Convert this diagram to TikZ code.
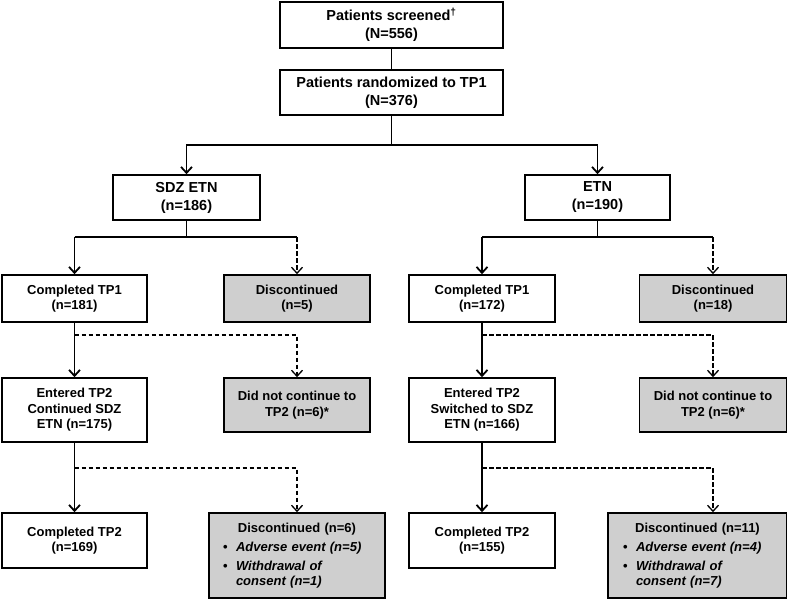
\documentclass[tikz,border=0pt]{standalone}
\usepackage{fontspec}
\setmainfont{Liberation Sans}
\usetikzlibrary{arrows.meta}
\definecolor{boxgrey}{RGB}{207,207,207}
\tikzset{
  box/.style={draw, line width=1.6pt, align=center, inner sep=2pt, font=\fontsize{13}{15.5}\selectfont\bfseries},
  topbox/.style={box, font=\fontsize{14.5}{18}\selectfont\bfseries},
  greybox/.style={box, fill=boxgrey},
  arr/.style={-{Straight Barb[length=6pt,width=11pt]}},
  dashline/.style={dash pattern=on 4.5pt off 2.5pt, line width=1.3pt},
}
\begin{document}
\begin{tikzpicture}[x=1pt, y=-1pt, line width=1.8pt]
\useasboundingbox (0,0) rectangle (787,600);
\node[topbox, minimum width=223pt, minimum height=46pt] (P_0_0) at (391.5,25) {Patients screened\textsuperscript{†}\\(N=556)};
\node[topbox, minimum width=223pt, minimum height=45pt] (P_1_0) at (391.5,92.5) {Patients randomized to TP1\\(N=376)};
\draw (P_0_0) -- (P_1_0);
\node[topbox, minimum width=147pt, minimum height=45pt] (P_2_0) at (186.5,197.5) {SDZ ETN\\(n=186)};
\node[topbox, minimum width=145pt, minimum height=45pt] (P_2_1) at (597.5,197.5) {ETN\\(n=190)};
\coordinate (B_0) at (391.5,145);
\draw (P_1_0) -- (B_0);
\draw[arr] (B_0) -| (P_2_0);
\draw[arr] (B_0) -| (P_2_1);
% treatment period 1
\node[box, minimum width=145pt, minimum height=47pt] (P_3_0) at (74.5,298.5) {Completed TP1\\(n=181)};
\node[greybox, minimum width=146pt, minimum height=47pt] (P_3_1) at (297,298.5) {Discontinued\\(n=5)};
\node[box, minimum width=146pt, minimum height=47pt] (P_3_2) at (482,298.5) {Completed TP1\\(n=172)};
\node[greybox, minimum width=147pt, minimum height=47pt] (P_3_3) at (713,298.5) {Discontinued\\(n=18)};
\coordinate (B_1_0) at (186.5,237);
\coordinate (B_1_1) at (597.5,237);
\draw (P_2_0) -- (B_1_0);
\draw (P_3_0 |- B_1_0) -- (P_3_1 |- B_1_0);
\draw[arr] (P_3_0 |- B_1_0) -- (P_3_0);
\draw[arr, dashline] (P_3_1 |- B_1_0) -- (P_3_1);
\draw (P_2_1) -- (B_1_1);
\draw (P_3_2 |- B_1_1) -- (P_3_3 |- B_1_1);
\draw[arr] (P_3_2 |- B_1_1) -- (P_3_2);
\draw[arr, dashline] (P_3_3 |- B_1_1) -- (P_3_3);
% treatment period 2
\node[box, minimum width=145pt, minimum height=64pt] (P_4_0) at (74.5,410) {Entered TP2\\Continued SDZ\\ETN (n=175)};
\node[greybox, minimum width=146pt, minimum height=54pt] (P_4_1) at (297,405) {Did not continue to\\TP2 (n=6)*};
\node[box, minimum width=146pt, minimum height=64pt] (P_4_2) at (482,410) {Entered TP2\\Switched to SDZ\\ETN (n=166)};
\node[greybox, minimum width=147pt, minimum height=54pt] (P_4_3) at (713,405) {Did not continue to\\TP2 (n=6)*};
\coordinate (B_2_0) at (74.5,335);
\coordinate (B_2_1) at (482,335);
\draw[arr] (P_3_0) -- (P_4_0);
\draw[arr, dashline] (B_2_0) -| (P_4_1);
\draw[arr] (P_3_2) -- (P_4_2);
\draw[arr, dashline] (B_2_1) -| (P_4_3);
% end of TP2
\node[box, minimum width=145pt, minimum height=55pt] (P_5_0) at (74.5,540.5) {Completed TP2\\(n=169)};
\node[greybox, align=left, text width=172pt, minimum height=85pt] (P_5_1) at (297,555.5) {{\centering Discontinued (n=6)\par}\vspace{4pt}
  \leftskip=12pt \itshape
  \makebox[13pt][l]{\upshape\textbullet}Adverse event (n=5)\par\vspace{3pt}
  \makebox[13pt][l]{\upshape\textbullet}\parbox[t]{140pt}{\raggedright Withdrawal of\\consent (n=1)}\par};
\node[box, minimum width=146pt, minimum height=55pt] (P_5_2) at (482,540.5) {Completed TP2\\(n=155)};
\node[greybox, align=left, text width=175pt, minimum height=85pt] (P_5_3) at (697.5,555.5) {{\centering Discontinued (n=11)\par}\vspace{4pt}
  \leftskip=13pt \itshape
  \makebox[13pt][l]{\upshape\textbullet}Adverse event (n=4)\par\vspace{3pt}
  \makebox[13pt][l]{\upshape\textbullet}\parbox[t]{140pt}{\raggedright Withdrawal of\\consent (n=7)}\par};
\coordinate (B_3_0) at (74.5,468);
\coordinate (B_3_1) at (482,468);
\coordinate (E_5_1) at (P_4_1 |- P_5_1.north);
\coordinate (E_5_3) at (P_4_3 |- P_5_3.north);
\draw[arr] (P_4_0) -- (P_5_0);
\draw[arr, dashline] (B_3_0) -| (E_5_1);
\draw[arr] (P_4_2) -- (P_5_2);
\draw[arr, dashline] (B_3_1) -| (E_5_3);
\end{tikzpicture}
\end{document}
